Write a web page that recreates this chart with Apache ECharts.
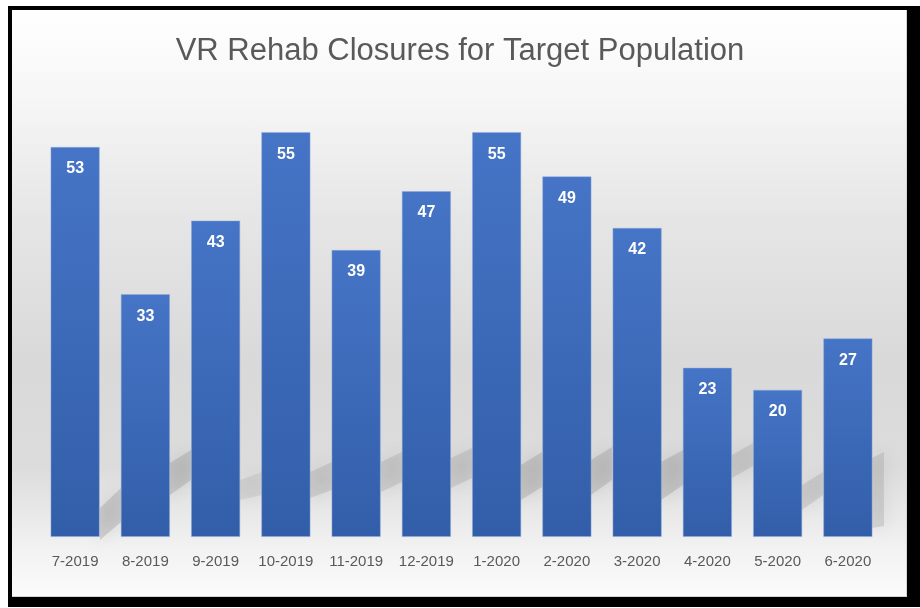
<!DOCTYPE html>
<html>
<head>
<meta charset="utf-8">
<script src="https://cdn.jsdelivr.net/npm/echarts@6/dist/echarts.min.js"></script>
<style>
  html, body { margin: 0; padding: 0; background: #fff; }
  #frame { position: absolute; left: 8px; top: 6px; width: 912px; height: 601px; background: #000; }
  #panel { position: absolute; left: 12px; top: 10px; width: 894px; height: 586px;
    border-right: 1px solid #d4d4d4; border-bottom: 1px solid #d4d4d4;
    background: linear-gradient(to bottom, #ffffff 0%, #f6f6f6 15%, #e6e6e6 35%, #d9d9d9 60%, #dcdcdc 78%, #f2f2f2 92%, #fbfbfb 100%); }
  #chart { position: absolute; left: 0; top: 0; width: 920px; height: 608px; }
</style>
</head>
<body>
<div id="frame"></div>
<div id="panel"></div>
<div id="chart"></div>
<script>
const titleText = 'VR Rehab Closures for Target Population';
const categories = ['7-2019','8-2019','9-2019','10-2019','11-2019','12-2019','1-2020','2-2020','3-2020','4-2020','5-2020','6-2020'];
const closures = [53, 33, 43, 55, 39, 47, 55, 49, 42, 23, 20, 27];

// decorative background streaks (pixel geometry only, not data): [xL, xR, topL, topR, botL, botR, alpha]
const streaks = [
  [100,121,508,488,540,522,0.32],
  [170,191,463,450,495,480,0.32],
  [240,262,480,472,500,495,0.18],
  [310,332,472,462,498,490,0.25],
  [381,402,462,452,492,482,0.25],
  [451,472,458,448,488,478,0.25],
  [521,542,465,452,500,487,0.32],
  [591,612,460,447,495,480,0.32],
  [661,683,462,450,500,485,0.32],
  [732,753,455,443,478,466,0.25],
  [802,823,485,472,510,495,0.25],
  [872,884,458,452,528,526,0.25]
];

const FONT = "'Liberation Sans', Arial, sans-serif";
const chart = echarts.init(document.getElementById('chart'));
chart.setOption({
  backgroundColor: 'transparent',
  animation: false,
  title: {
    text: titleText,
    left: 'center',
    top: 31,
    textStyle: { fontFamily: FONT, fontSize: 31, fontWeight: 'normal', color: '#595959' }
  },
  graphic: streaks.map(s => ({
    type: 'polygon',
    z: -1,
    silent: true,
    shape: { points: [[s[0], s[2]], [s[1], s[3]], [s[1], s[5]], [s[0], s[4]]] },
    style: { fill: 'rgba(140,140,140,' + s[6] + ')', shadowBlur: 16, shadowColor: 'rgba(120,120,120,0.6)' }
  })),
  grid: { left: 40, right: 37, top: 95.4, bottom: 71, containLabel: false },
  xAxis: {
    type: 'category',
    data: categories,
    axisLine: { show: false },
    axisTick: { show: false },
    axisLabel: { margin: 17, fontFamily: FONT, fontSize: 15, color: '#595959', interval: 0 }
  },
  yAxis: {
    type: 'value',
    min: 0,
    max: 60,
    show: false,
    splitLine: { show: false }
  },
  series: [{
    type: 'bar',
    data: closures,
    barWidth: '70%',
    z: 3,
    itemStyle: {
      color: new echarts.graphic.LinearGradient(0, 0, 0, 1, [
        { offset: 0, color: '#4674c6' },
        { offset: 1, color: '#325ea9' }
      ]),
      borderColor: 'rgba(140,170,220,0.6)',
      borderWidth: 0.8
    },
    label: {
      show: true,
      position: 'insideTop',
      distance: 14,
      fontFamily: FONT,
      fontSize: 16,
      fontWeight: 'bold',
      color: '#ffffff'
    }
  }]
});
</script>
</body>
</html>
